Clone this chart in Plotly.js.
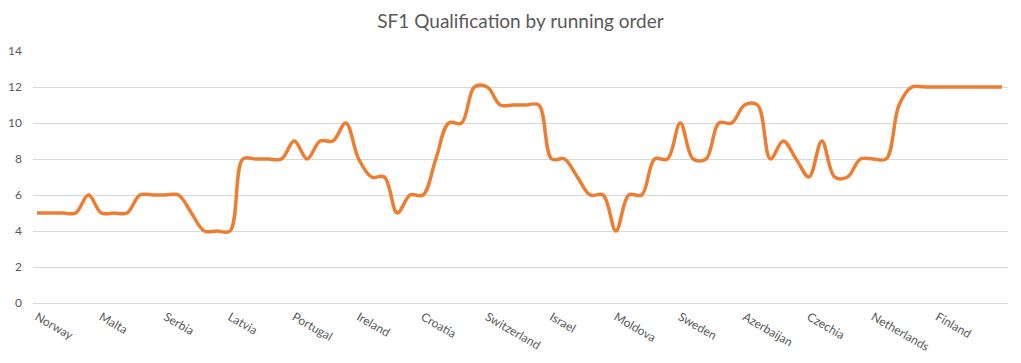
<!DOCTYPE html>
<html>
<head>
<meta charset="utf-8">
<script src="https://cdn.plot.ly/plotly-3.0.1.min.js"></script>
<style>
  html, body { margin: 0; padding: 0; background: #ffffff; }
  #chart { width: 1021px; height: 363px; }
</style>
</head>
<body>
<div id="chart"></div>
<script>
// Countries in running order (axis labels, one every 5 steps)
const countries = ["Norway", "Malta", "Serbia", "Latvia", "Portugal", "Ireland", "Croatia",
  "Switzerland", "Israel", "Moldova", "Sweden", "Azerbaijan", "Czechia", "Netherlands", "Finland"];

// Steps between labelled countries
const stepsPerCountry = 5;

// Qualification count, one value per step
const qualified = [
  5, 5, 5, 5, 6,
  5, 5, 5, 6, 6,
  6, 6, 5, 4, 4,
  4, 8, 8, 8, 8,
  9, 8, 9, 9, 10,
  8, 7, 7, 5, 6,
  6, 8, 10, 10, 12,
  12, 11, 11, 11, 11,
  8, 8, 7, 6, 6,
  4, 6, 6, 8, 8,
  10, 8, 8, 10, 10,
  11, 11, 8, 9, 8,
  7, 9, 7, 7, 8,
  8, 8, 11, 12, 12,
  12, 12, 12, 12, 12,
  12
];

const xs = qualified.map((_, i) => i);
const tickVals = countries.map((_, i) => i * stepsPerCountry);

const trace = {
  x: xs,
  y: qualified,
  type: 'scatter',
  mode: 'lines',
  line: { color: '#ED7D31', width: 3.5, shape: 'spline', smoothing: 1 },
  hoverinfo: 'y'
};

const layout = {
  width: 1021,
  height: 363,
  margin: { l: 33, r: 13, t: 51, b: 60 },
  paper_bgcolor: '#ffffff',
  plot_bgcolor: '#ffffff',
  showlegend: false,
  title: {
    text: 'SF1 Qualification by running order',
    font: { family: 'Lato, "Open Sans", sans-serif', size: 19, color: '#595959' },
    x: 0.5, xref: 'paper', xanchor: 'center',
    y: 1 - 21 / 363, yref: 'container', yanchor: 'middle'
  },
  xaxis: {
    range: [-0.31, 75.47],
    tickmode: 'array',
    tickvals: tickVals,
    ticktext: countries,
    tickangle: 30,
    tickfont: { family: 'Lato, "Open Sans", sans-serif', size: 12, color: '#595959' },
    showgrid: false,
    zeroline: false,
    showline: false,
    ticks: '',
    ticklabelstandoff: 4
  },
  yaxis: {
    range: [0, 14],
    tickvals: [0, 2, 4, 6, 8, 10, 12, 14],
    tickfont: { family: 'Lato, "Open Sans", sans-serif', size: 12, color: '#595959' },
    showgrid: true,
    gridcolor: '#D9D9D9',
    gridwidth: 1,
    zeroline: true,
    zerolinecolor: '#D9D9D9',
    zerolinewidth: 1,
    showline: false,
    ticks: '',
    ticklabelstandoff: 10
  }
};

Plotly.newPlot('chart', [trace], layout, { displayModeBar: false, staticPlot: true });
</script>
</body>
</html>
